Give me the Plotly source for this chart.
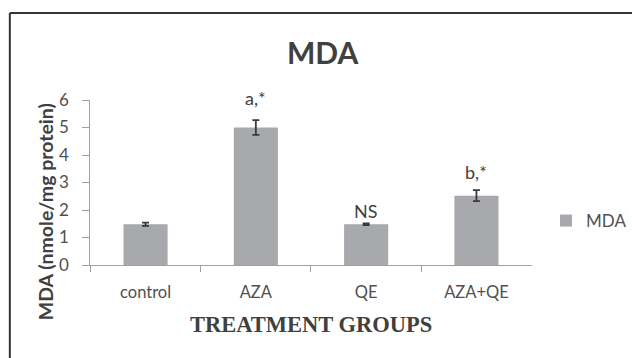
import plotly.graph_objects as go

categories = ["control", "AZA", "QE", "AZA+QE"]
mda_values = [1.48, 5.0, 1.48, 2.52]
mda_errors = [0.06, 0.27, 0.03, 0.2]
labels = ["", "a,*", "NS", "b,*"]
y_ticks = [0, 1, 2, 3, 4, 5, 6]

W, H = 632, 358
X0, X1 = 92, 541     # plot area in pixels
Y0, Y1 = 100, 265

def px_x(x):
    return x / W

def px_y(y):
    return 1 - y / H

label_shift = [0, 22, 12, 18]

fig = go.Figure()
fig.add_trace(go.Bar(
    x=categories, y=mda_values, name="MDA",
    marker=dict(color="#A8A9AD", line=dict(width=0)),
    error_y=dict(type="data", array=mda_errors, visible=True,
                 color="#3A3A3A", thickness=1.8, width=3.5),
    showlegend=True,
))

for c, v, e, lab, s in zip(categories, mda_values, mda_errors, labels, label_shift):
    if lab:
        fig.add_annotation(x=c, y=v + e, text=lab, showarrow=False,
                           xanchor="center", yanchor="middle", yshift=s,
                           font=dict(family="Lato, Open Sans, sans-serif", size=18, color="#404040"))

fig.add_annotation(xref="paper", yref="paper", x=px_x(328), y=px_y(52),
                   xanchor="center", yanchor="middle",
                   text="<b>MDA</b>", showarrow=False,
                   font=dict(family="Lato, Open Sans, sans-serif", size=30, color="#404040"))
fig.add_annotation(xref="paper", yref="paper", x=px_x(316.5), y=px_y(324),
                   xanchor="center", yanchor="middle",
                   text="<b>TREATMENT GROUPS</b>", showarrow=False,
                   font=dict(family="Liberation Serif, Times New Roman, serif", size=22.5, color="#404040"))
fig.add_annotation(xref="paper", yref="paper", x=px_x(46), y=px_y(212),
                   xanchor="center", yanchor="middle",
                   text="<b>MDA (nmole/mg protein)</b>", showarrow=False, textangle=-90,
                   font=dict(family="Lato, Open Sans, sans-serif", size=19.5, color="#404040"))

# outer frame
fig.add_shape(type="line", xref="paper", yref="paper",
              x0=px_x(10), x1=px_x(650), y0=px_y(13), y1=px_y(13),
              line=dict(color="#333333", width=2))
fig.add_shape(type="line", xref="paper", yref="paper",
              x0=px_x(10), x1=px_x(10), y0=px_y(13), y1=px_y(380),
              line=dict(color="#333333", width=2))

fig.update_layout(
    width=W, height=H,
    margin=dict(l=0, r=0, t=0, b=0),
    paper_bgcolor="white", plot_bgcolor="white",
    bargap=0.6,
    font=dict(family="Lato, Open Sans, sans-serif", color="#595959"),
    xaxis=dict(domain=[X0 / W, X1 / W], automargin=False,
               showline=True, linecolor="#A0A0A0", linewidth=1,
               ticks="outside", tickson="boundaries", ticklen=6, tickcolor="#A0A0A0",
               ticklabelstandoff=12,
               tickfont=dict(size=16.5, color="#505050"), showgrid=False),
    yaxis=dict(domain=[1 - Y1 / H, 1 - Y0 / H], automargin=False,
               range=[0, 6], tickvals=y_ticks, showline=True, linecolor="#A0A0A0",
               linewidth=1, ticks="outside", ticklen=7, tickcolor="#A0A0A0",
               ticklabelstandoff=10,
               tickfont=dict(size=17, color="#505050"), showgrid=False, zeroline=False),
    legend=dict(x=px_x(556), y=px_y(221), xanchor="left", yanchor="middle",
                font=dict(size=17, color="#505050"), bgcolor="rgba(0,0,0,0)"),
)

fig.write_html("out.html", config={"displayModeBar": False},
               post_script="document.body.style.margin='0';")
